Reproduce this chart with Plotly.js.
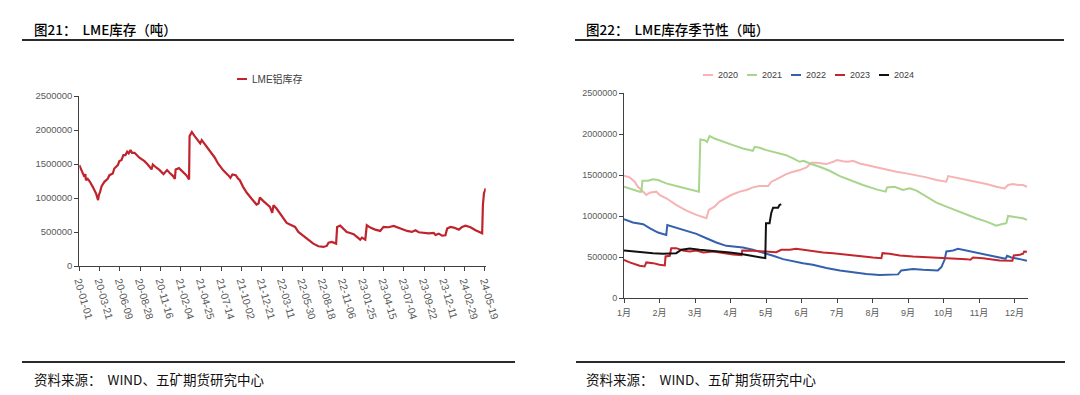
<!DOCTYPE html>
<html>
<head>
<meta charset="utf-8">
<script src="https://cdn.plot.ly/plotly-3.0.1.min.js"></script>
<style>
html,body{margin:0;padding:0;background:#fff;}
#chart{width:1080px;height:395px;}
</style>
</head>
<body>
<div id="chart"></div>
<script>
// ---------- Figure 21: LME aluminium stock (days since 2020-01-01) ----------
const lmeDays = [0,20,24,26,33,42,53,66,74,77,82,88,99,112,119,132,138,152,158,166,174,182,189,195,202,208,218,237,257,270,285,290,303,317,332,346,356,369,377,380,393,409,422,433,435,441,444,455,468,477,483,495,508,521,534,547,567,587,596,604,617,626,633,646,660,679,699,707,712,725,739,752,761,766,778,791,805,818,831,851,864,884,903,923,943,963,976,983,996,1013,1017,1029,1042,1055,1068,1082,1095,1108,1115,1128,1134,1148,1167,1187,1200,1220,1240,1253,1273,1293,1312,1326,1339,1359,1378,1398,1405,1418,1431,1444,1451,1464,1477,1497,1510,1523,1543,1563,1580,1589,1592,1596,1603];
const lmeStock = [1483000,1311000,1351000,1262000,1282000,1238000,1164000,1066000,968000,1041000,1090000,1174000,1238000,1282000,1336000,1361000,1434000,1483000,1542000,1557000,1631000,1631000,1680000,1655000,1704000,1665000,1665000,1592000,1542000,1493000,1420000,1493000,1449000,1410000,1351000,1410000,1370000,1326000,1282000,1420000,1439000,1385000,1336000,1272000,1911000,1950000,1970000,1911000,1852000,1803000,1852000,1793000,1729000,1655000,1596000,1508000,1410000,1336000,1297000,1346000,1336000,1287000,1262000,1164000,1081000,992000,904000,919000,1007000,958000,919000,870000,781000,894000,845000,771000,698000,634000,609000,575000,501000,437000,388000,329000,290000,280000,295000,344000,354000,329000,575000,594000,550000,501000,486000,467000,427000,388000,418000,388000,599000,565000,535000,516000,575000,570000,589000,570000,540000,516000,501000,526000,496000,486000,481000,486000,457000,476000,447000,452000,550000,575000,565000,535000,575000,594000,570000,526000,496000,481000,894000,1066000,1140000];
const lmeTickDays = [0,80,160,240,320,400,480,560,640,720,800,880,960,1040,1120,1200,1280,1360,1440,1520,1600];
const lmeTickLabels = ["20-01-01","20-03-21","20-06-09","20-08-28","20-11-16","21-02-04","21-04-25","21-07-14","21-10-02","21-12-21","22-03-11","22-05-30","22-08-18","22-11-06","23-01-25","23-04-15","23-07-04","23-09-22","23-12-11","24-02-29","24-05-19"];
const lmeSeriesName = "LME铝库存";

// ---------- Figure 22: seasonality (x = month position, 1 = start of Jan) ----------
const seasonYears = ["2020","2021","2022","2023","2024"];
const x2020 = [1.00,1.16,1.30,1.39,1.49,1.63,1.72,1.91,2.00,2.19,2.47,2.76,3.04,3.23,3.32,3.39,3.55,3.69,3.84,4.02,4.26,4.45,4.63,4.82,5.06,5.15,5.29,5.43,5.57,5.76,5.95,6.14,6.28,6.42,6.56,6.70,6.89,7.00,7.17,7.31,7.45,7.64,7.83,8.11,8.39,8.67,8.95,9.24,9.52,9.80,10.08,10.13,10.36,10.64,10.92,11.21,11.49,11.72,11.82,11.96,12.10,12.24,12.35];
const y2020 = [1491000,1471000,1418000,1357000,1317000,1256000,1284000,1297000,1256000,1216000,1135000,1066000,1013000,985000,972000,1074000,1114000,1175000,1216000,1256000,1297000,1317000,1349000,1366000,1366000,1418000,1447000,1479000,1511000,1540000,1560000,1592000,1649000,1649000,1641000,1633000,1661000,1682000,1669000,1661000,1673000,1641000,1621000,1592000,1568000,1540000,1520000,1499000,1471000,1438000,1418000,1487000,1467000,1438000,1418000,1390000,1357000,1337000,1378000,1390000,1378000,1378000,1357000];
const x2021 = [1.00,1.21,1.44,1.49,1.52,1.68,1.82,1.96,2.19,2.47,2.76,3.11,3.15,3.27,3.34,3.41,3.55,3.79,4.07,4.35,4.63,4.68,4.82,5.01,5.29,5.57,5.76,5.95,6.06,6.23,6.51,6.79,7.08,7.36,7.73,8.11,8.37,8.41,8.62,8.86,9.05,9.24,9.52,9.80,10.08,10.36,10.64,10.92,11.21,11.49,11.63,11.77,11.82,12.05,12.24,12.35];
const y2021 = [1357000,1325000,1297000,1297000,1430000,1430000,1447000,1438000,1398000,1366000,1337000,1297000,1933000,1925000,1904000,1973000,1945000,1904000,1864000,1823000,1795000,1844000,1832000,1803000,1771000,1742000,1702000,1661000,1673000,1641000,1601000,1552000,1487000,1438000,1378000,1325000,1297000,1349000,1357000,1317000,1337000,1309000,1236000,1163000,1114000,1066000,1013000,972000,932000,883000,900000,912000,1001000,985000,972000,952000];
const x2022 = [1.00,1.25,1.54,1.72,1.96,2.19,2.22,2.47,2.76,3.04,3.32,3.60,3.88,4.07,4.35,4.63,4.92,5.20,5.48,5.76,6.04,6.32,6.70,7.08,7.45,7.83,8.20,8.58,8.72,8.81,8.95,9.14,9.42,9.70,9.84,9.94,10.03,10.08,10.27,10.41,10.55,10.74,11.02,11.30,11.58,11.75,11.79,11.91,12.15,12.35];
const y2022 = [960000,920000,900000,851000,798000,770000,891000,859000,819000,782000,729000,677000,636000,628000,616000,588000,555000,515000,474000,446000,425000,405000,365000,336000,312000,292000,280000,280000,288000,336000,344000,353000,344000,336000,336000,377000,466000,567000,579000,600000,588000,567000,539000,515000,498000,478000,515000,494000,474000,454000];
const x2023 = [1.00,1.16,1.44,1.58,1.63,1.82,2.00,2.15,2.17,2.29,2.33,2.47,2.66,2.85,3.04,3.23,3.51,3.69,3.88,4.07,4.31,4.33,4.63,5.01,5.29,5.43,5.67,5.85,6.04,6.32,6.61,6.89,7.26,7.64,8.01,8.25,8.28,8.48,8.77,9.14,9.52,9.89,10.27,10.64,10.76,10.83,11.11,11.39,11.58,11.94,11.98,12.15,12.24,12.27,12.35];
const y2023 = [466000,434000,393000,385000,434000,425000,405000,397000,507000,515000,608000,608000,579000,567000,579000,555000,567000,555000,539000,531000,523000,579000,575000,567000,559000,588000,588000,600000,588000,567000,555000,547000,527000,507000,494000,486000,547000,539000,519000,507000,498000,498000,486000,474000,466000,494000,486000,474000,458000,454000,519000,527000,539000,567000,563000];
const x2024 = [1.00,1.25,1.54,1.82,2.10,2.33,2.47,2.62,2.85,3.13,3.41,3.69,3.98,4.26,4.54,4.82,4.98,5.00,5.10,5.15,5.20,5.34,5.38,5.43];
const y2024 = [579000,567000,555000,547000,539000,539000,547000,588000,604000,588000,579000,567000,555000,539000,515000,494000,486000,912000,912000,1041000,1102000,1102000,1135000,1143000];
const monthTicks = [1,2,3,4,5,6,7,8,9,10,11,12];
const monthLabels = ["1月","2月","3月","4月","5月","6月","7月","8月","9月","10月","11月","12月"];

// ---------- styles ----------
const W = 1080, H = 395;
const px = v => v / W;
const py = v => 1 - v / H;
const lmeColor = "#c0232c";
const seasonColors = ["#f6b3b3","#a8d58c","#3461ad","#c3262c","#111111"];
const seasonX = [x2020, x2021, x2022, x2023, x2024];
const seasonY = [y2020, y2021, y2022, y2023, y2024];
const latin = "'Liberation Sans', Arial, 'Noto Sans CJK SC', sans-serif";
const cjk = "'Noto Sans CJK SC', sans-serif";
const axisColor = "#404040";
const tickFontColor = "#595959";

const traces = [{
  type: "scatter", mode: "lines", name: lmeSeriesName,
  x: lmeDays, y: lmeStock, xaxis: "x", yaxis: "y",
  line: {color: lmeColor, width: 2.2}, showlegend: false, hoverinfo: "skip"
}];
seasonYears.forEach((yr, i) => {
  traces.push({
    type: "scatter", mode: "lines", name: yr,
    x: seasonX[i], y: seasonY[i], xaxis: "x2", yaxis: "y2",
    line: {color: seasonColors[i], width: 2}, showlegend: false, hoverinfo: "skip"
  });
});

const axisCommon = {
  showgrid: false, zeroline: false, showline: true, linecolor: axisColor, linewidth: 1,
  ticks: "outside", ticklen: 4, tickcolor: axisColor, tickwidth: 1, fixedrange: true
};

const layout = {
  width: W, height: H, autosize: false,
  margin: {l: 0, r: 0, t: 0, b: 0, pad: 0},
  paper_bgcolor: "#ffffff", plot_bgcolor: "#ffffff",
  showlegend: false,
  xaxis: Object.assign({}, axisCommon, {
    domain: [px(79.3), px(485.7)], range: [0, 1603], anchor: "y",
    tickmode: "array", tickvals: lmeTickDays, ticktext: lmeTickLabels, tickangle: 74,
    tickfont: {family: latin, size: 10.5, color: tickFontColor}
  }),
  yaxis: Object.assign({}, axisCommon, {
    domain: [py(266), py(96)], range: [0, 2500000], anchor: "x",
    tickmode: "linear", tick0: 0, dtick: 500000, tickformat: "d",
    tickfont: {family: latin, size: 9.5, color: tickFontColor}
  }),
  xaxis2: Object.assign({}, axisCommon, {
    domain: [px(624), px(1028)], range: [1, 12.38], anchor: "y2",
    tickmode: "array", tickvals: monthTicks, ticktext: monthLabels, tickangle: 0,
    ticklabelstandoff: 2,
    tickfont: {family: latin, size: 9, color: tickFontColor}
  }),
  yaxis2: Object.assign({}, axisCommon, {
    domain: [py(298), py(93)], range: [0, 2500000], anchor: "x2",
    tickmode: "linear", tick0: 0, dtick: 500000, tickformat: "d",
    tickfont: {family: latin, size: 9, color: tickFontColor}
  }),
  shapes: [],
  annotations: []
};

// header / footer rules
const rule = (x0, x1, y) => ({type: "line", xref: "paper", yref: "paper",
  x0: px(x0), x1: px(x1), y0: py(y), y1: py(y), line: {color: "#2b2b2b", width: 2}});
layout.shapes.push(rule(22, 514, 40), rule(575, 1064, 40), rule(22, 515, 362), rule(576, 1065, 362));

// titles and sources
const textAnn = (t, x, y, size, color, weight) => ({text: t, xref: "paper", yref: "paper",
  x: px(x), y: py(y), xanchor: "left", yanchor: "middle", showarrow: false,
  font: {family: cjk, size: size, color: color, weight: weight}});
layout.annotations.push(
  textAnn("图21：  LME库存（吨）", 32, 29, 13.5, "#000000", 500),
  textAnn("图22：  LME库存季节性（吨）", 584, 29, 13.5, "#000000", 500),
  textAnn("资料来源：  WIND、五矿期货研究中心", 32, 379, 13.5, "#111111", 400),
  textAnn("资料来源：  WIND、五矿期货研究中心", 584, 379, 13.5, "#111111", 400)
);

// legends (short line sample + label)
const legendItem = (name, color, x, y, size) => {
  layout.shapes.push({type: "line", xref: "paper", yref: "paper",
    x0: px(x), x1: px(x + 10), y0: py(y), y1: py(y), line: {color: color, width: 2}});
  layout.annotations.push({text: name, xref: "paper", yref: "paper",
    x: px(x + 13), y: py(y), xanchor: "left", yanchor: "middle", showarrow: false,
    font: {family: latin, size: size, color: "#404040"}});
};
legendItem(lmeSeriesName, lmeColor, 237, 79, 10);
seasonYears.forEach((yr, i) => legendItem(yr, seasonColors[i], 703 + 44 * i, 75, 9));

Plotly.newPlot("chart", traces, layout, {staticPlot: true, displayModeBar: false});
</script>
</body>
</html>
